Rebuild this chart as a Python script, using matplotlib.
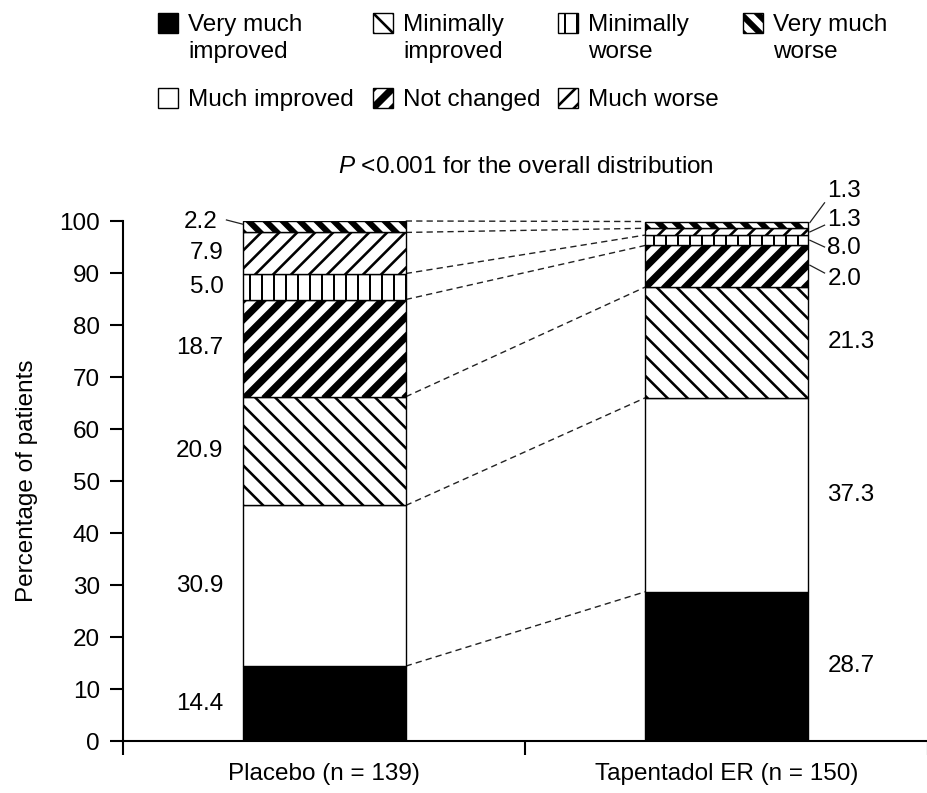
import numpy as np
import matplotlib
matplotlib.use('Agg')
import matplotlib.pyplot as plt
import matplotlib.transforms as mtransforms
from matplotlib import font_manager
from matplotlib.collections import LineCollection
from matplotlib.patches import Rectangle

# data
categories = ['Very much improved', 'Much improved', 'Minimally improved',
              'Not changed', 'Minimally worse', 'Much worse', 'Very much worse']
legend_text = ['Very much\nimproved', 'Much improved', 'Minimally\nimproved',
               'Not changed', 'Minimally\nworse', 'Much worse', 'Very much\nworse']
groups = ['Placebo (n = 139)', 'Tapentadol ER (n = 150)']
placebo = [14.4, 30.9, 20.9, 18.7, 5.0, 7.9, 2.2]
tapentadol = [28.7, 37.3, 21.3, 8.0, 2.0, 1.3, 1.3]
# labels as printed in the original (small ones listed top-down)
placebo_labels = ['14.4', '30.9', '20.9', '18.7', '5.0', '7.9', '2.2']
tapentadol_labels = ['28.7', '37.3', '21.3', '2.0', '8.0', '1.3', '1.3']

# pick a narrow font if there is one
fam = 'DejaVu Sans'
for f in ['Liberation Sans Narrow', 'Liberation Sans']:
    try:
        font_manager.findfont(f, fallback_to_default=False)
        fam = f
        break
    except ValueError:
        pass
plt.rcParams['font.family'] = [fam, 'DejaVu Sans']
plt.rcParams['font.size'] = 17.5
plt.rcParams['mathtext.fontset'] = 'custom'
plt.rcParams['mathtext.it'] = fam + ':italic'
plt.rcParams['mathtext.rm'] = fam

# hatch style per category: (kind, period px, line width px)
styles = [None, None, ('\\', 20, 2.6), ('/', 20, 7.2),
          ('|', 12, 2.0), ('/', 18, 2.6), ('\\', 17, 6.0)]
faces = ['black', 'white', 'white', 'white', 'white', 'white', 'white']

W, H, DPI = 928, 793, 100
fig = plt.figure(figsize=(W / DPI, H / DPI), dpi=DPI)
ax = fig.add_axes([123 / W, 52 / H, 805 / W, 520 / H])
ax.set_xlim(0, 805 / 404)
ax.set_ylim(0, 100)

ident = mtransforms.IdentityTransform()


def add_hatch(target, patch, st):
    if st is None:
        return
    kind, per, lw = st
    bb = patch.get_window_extent()
    x0, y0, x1, y1 = bb.x0, bb.y0, bb.x1, bb.y1
    h = y1 - y0
    segs = []
    if kind == '|':
        for c in np.arange(x0 + per * 0.6, x1, per):
            segs.append([(c, y0 - 2), (c, y1 + 2)])
    else:
        for c in np.arange(x0 - h - per, x1 + per, per):
            if kind == '/':
                segs.append([(c - 2, y0 - 2), (c + h + 2, y1 + 2)])
            else:
                segs.append([(c - 2, y1 + 2), (c + h + 2, y0 - 2)])
    lc = LineCollection(segs, colors='black', linewidths=lw * 72 / DPI,
                        transform=ident, capstyle='butt', zorder=patch.get_zorder() + 0.1)
    target.add_artist(lc)
    lc.set_clip_path(patch)
    # redraw the border over the hatch
    edge = Rectangle(patch.get_xy(), patch.get_width(), patch.get_height(),
                     transform=patch.get_transform(), fill=False, edgecolor='black',
                     linewidth=patch.get_linewidth(), zorder=patch.get_zorder() + 0.2)
    target.add_artist(edge)


xpos = [0.5, 1.5]
bw = 0.405
data = [placebo, tapentadol]
bars = []
for gi, vals in enumerate(data):
    bottom = 0
    row = []
    for ci, v in enumerate(vals):
        b = ax.bar(xpos[gi], v, bw, bottom=bottom, color=faces[ci],
                   edgecolor='black', linewidth=1.0, zorder=2)[0]
        row.append(b)
        bottom += v
    bars.append(row)

for gi in range(2):
    for ci in range(len(categories)):
        add_hatch(ax, bars[gi][ci], styles[ci])

# dashed connectors between the segment boundaries
cum_p = np.cumsum(placebo)
cum_t = np.cumsum(tapentadol)
for yp, yt in zip(cum_p, cum_t):
    ax.plot([xpos[0] + bw / 2, xpos[1] - bw / 2], [yp, yt], color='#222222',
            linewidth=1.0, linestyle=(0, (4.5, 3)), zorder=1, clip_on=False)

# placebo labels (left of bar)
mid_p = cum_p - np.array(placebo) / 2
for i, lab in enumerate(placebo_labels[:-1]):
    ax.text(0.25, mid_p[i], lab, ha='right', va='center')
ax.text(0.235, 99.9, placebo_labels[-1], ha='right', va='center')
ax.plot([0.257, 0.297], [100.2, 99.4], color='#222222', linewidth=0.9, clip_on=False)

# tapentadol labels (right of bar)
mid_t = cum_t - np.array(tapentadol) / 2
for i in range(3):
    ax.text(1.75, mid_t[i], tapentadol_labels[i], ha='left', va='center')
small_y = [88.8, 94.8, 100.2, 105.8]
anchor_y = [91.5, 96.3, 97.9, 99.7]
end_y = [90.0, 95.0, 99.2, 103.5]
for k, i in enumerate(range(3, 7)):
    ax.text(1.75, small_y[k], tapentadol_labels[i], ha='left', va='center')
    ax.plot([xpos[1] + bw / 2 + 0.004, 1.743], [anchor_y[k], end_y[k]],
            color='#222222', linewidth=0.9, clip_on=False)

ax.text(1.0, 110.4, r'$P$ <0.001 for the overall distribution', ha='center', va='center')

# axes styling
for s in ['top', 'right']:
    ax.spines[s].set_visible(False)
for s in ['left', 'bottom']:
    ax.spines[s].set_linewidth(1.5)
ax.set_yticks(np.arange(0, 101, 10))
ax.tick_params(axis='y', direction='out', length=9.5, width=1.5, pad=7)
ax.set_xticks([0, 1, 2])
ax.set_xticklabels(['', '', ''])
ax.tick_params(axis='x', which='major', direction='out', length=10, width=1.5)
ax.set_xticks(xpos, minor=True)
ax.set_xticklabels(groups, minor=True)
ax.tick_params(axis='x', which='minor', length=0, pad=16)
ax.set_ylabel('Percentage of patients')
ax.yaxis.set_label_coords(-0.106, 0.5)

# legend drawn by hand
cols = [158, 373, 558, 743]
order = [(0, 0, 0), (0, 1, 2), (0, 2, 4), (0, 3, 6),
         (1, 0, 1), (1, 1, 3), (1, 2, 5)]
row_top = [13, 88]
sq = 20
for r, c, ci in order:
    x = cols[c]
    ytop = row_top[r]
    rect = Rectangle((x, H - ytop - sq), sq, sq, transform=ident,
                     facecolor=faces[ci], edgecolor='black', linewidth=1.0, zorder=3)
    fig.add_artist(rect)
    add_hatch(fig, rect, styles[ci])
    fig.text((x + 30) / W, 1 - (ytop + 1) / H, legend_text[ci], ha='left', va='top',
             linespacing=1.3)

fig.savefig('out.png', dpi=DPI)
